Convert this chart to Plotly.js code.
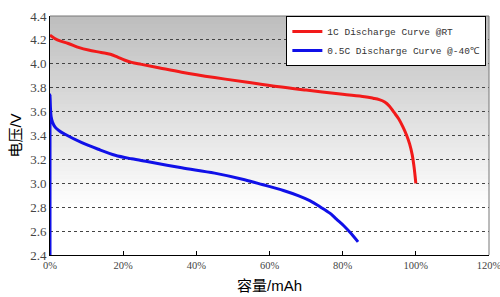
<!DOCTYPE html>
<html>
<head>
<meta charset="utf-8">
<script src="https://cdn.plot.ly/plotly-3.0.1.min.js"></script>
<style>html,body{margin:0;padding:0;background:#fff}#chart{width:500px;height:297px}</style>
</head>
<body>
<div id="chart"></div>
<script>
const seriesNames = ["1C Discharge Curve @RT", "0.5C Discharge Curve @-40\u2103"];
const redCapacity = [0, 2, 5, 8, 10.5, 14, 16.5, 18.5, 20.5, 22.3, 25, 30, 36, 45, 54, 62, 70, 80, 86, 88.3, 90, 91.5, 92.8, 94, 95.3, 96.5, 97.5, 98.3, 99, 99.5, 100];
const redVoltage  = [4.24, 4.20, 4.17, 4.135, 4.115, 4.095, 4.08, 4.055, 4.03, 4.012, 3.995, 3.965, 3.93, 3.885, 3.845, 3.81, 3.78, 3.745, 3.725, 3.712, 3.70, 3.68, 3.645, 3.595, 3.54, 3.47, 3.40, 3.33, 3.24, 3.14, 3.0];
const blueCapacity = [0, 0, 0.1, 0.3, 0.7, 1.4, 2.5, 4.1, 8.7, 13.2, 17.8, 22.3, 26.9, 36, 45, 53.2, 58, 63.8, 68, 71, 74, 76.5, 78.3, 80.3, 82, 84.2];
const blueVoltage  = [2.40, 3.74, 3.65, 3.56, 3.51, 3.47, 3.44, 3.41, 3.34, 3.285, 3.235, 3.205, 3.18, 3.13, 3.085, 3.03, 2.99, 2.94, 2.895, 2.855, 2.80, 2.75, 2.70, 2.645, 2.59, 2.51];
const xTicks = [0, 20, 40, 60, 80, 100, 120];
const yTicks = [2.4, 2.6, 2.8, 3.0, 3.2, 3.4, 3.6, 3.8, 4.0, 4.2, 4.4];

// vertical background gradient (styling): grey at top to white at bottom
const bands = [];
const nBands = 60;
for (let i = 0; i < nBands; i++) {
  const t = i / nBands;               // 0 at top
  const g = Math.round(190 + (255 - 190) * Math.min(1, t / 0.8));
  bands.push({type: 'rect', xref: 'paper', yref: 'paper', x0: 0, x1: 1,
              y1: 1 - i / nBands, y0: 1 - (i + 1) / nBands - 0.002,
              fillcolor: 'rgb(' + g + ',' + g + ',' + g + ')', line: {width: 0}, layer: 'below'});
}

const traces = [
  {x: redCapacity, y: redVoltage, name: seriesNames[0], mode: 'lines',
   line: {color: '#f21a1a', width: 3, shape: 'spline', smoothing: 1}},
  {x: blueCapacity, y: blueVoltage, name: seriesNames[1], mode: 'lines',
   line: {color: '#1010e8', width: 3, shape: 'spline', smoothing: 0.9}}
];

const layout = {
  width: 500, height: 297,
  margin: {l: 49.5, r: 10.5, t: 16, b: 42},
  paper_bgcolor: '#ffffff', plot_bgcolor: 'rgba(0,0,0,0)',
  showlegend: true,
  legend: {x: 0.994, xanchor: 'right', y: 1, yanchor: 'top', bgcolor: '#ffffff',
           bordercolor: '#000000', borderwidth: 1,
           font: {family: 'Liberation Mono, monospace', size: 9.5, color: '#333333'},
           tracegroupgap: 0},
  xaxis: {range: [0, 120], tickvals: xTicks, ticktext: xTicks.map(v => v + '%'),
          showgrid: false, zeroline: false, showline: true, linecolor: '#000000', linewidth: 1,
          ticks: 'inside', ticklen: 4, tickcolor: '#000000', ticklabeloverflow: 'allow',
          tickfont: {family: 'Liberation Serif, serif', size: 10.5, color: '#444444'},
          title: {text: '容量/mAh', standoff: 10,
                  font: {family: 'Liberation Sans, Noto Sans CJK SC, sans-serif', size: 15, color: '#000000'}}},
  yaxis: {range: [2.4, 4.4], tickvals: yTicks, ticktext: yTicks.map(v => v.toFixed(1)),
          showgrid: true, gridcolor: '#444444', griddash: 'dot', gridwidth: 1,
          zeroline: false, showline: true, linecolor: '#000000', linewidth: 1,
          ticks: '', tickfont: {family: 'Liberation Serif, serif', size: 13, color: '#444444'},
          title: {text: '电压/V', standoff: 4,
                  font: {family: 'Liberation Sans, Noto Sans CJK SC, sans-serif', size: 15, color: '#000000'}}},
  shapes: bands.concat([
    {type: 'line', xref: 'paper', yref: 'paper', x0: 0, x1: 1, y0: 1, y1: 1, line: {color: '#777777', width: 1}},
    {type: 'line', xref: 'paper', yref: 'paper', x0: 1, x1: 1, y0: 0, y1: 1, line: {color: '#777777', width: 1}}
  ])
};

Plotly.newPlot('chart', traces, layout, {staticPlot: true, displayModeBar: false});
</script>
</body>
</html>
